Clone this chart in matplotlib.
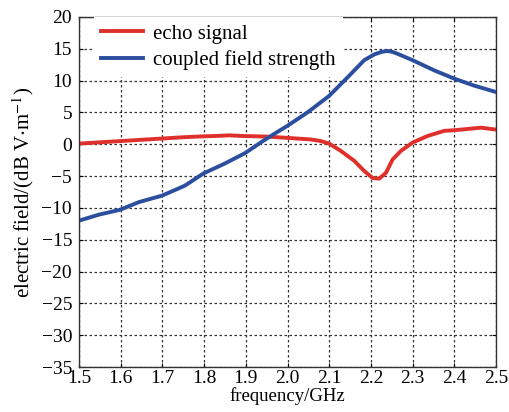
import matplotlib.pyplot as plt

plt.rcParams['font.family'] = ['Liberation Serif', 'DejaVu Serif']
plt.rcParams['mathtext.fontset'] = 'stix'

# echo signal (red)
freq_echo = [1.50, 1.55, 1.60, 1.65, 1.70, 1.75, 1.80, 1.83, 1.86, 1.89, 1.92, 1.95,
             2.00, 2.056, 2.08, 2.10, 2.128, 2.16, 2.184, 2.204, 2.22, 2.236,
             2.252, 2.272, 2.30, 2.336, 2.376, 2.40, 2.432, 2.464, 2.50]
echo = [0.1, 0.3, 0.5, 0.7, 0.9, 1.1, 1.25, 1.3, 1.4, 1.3, 1.25, 1.2,
        1.0, 0.75, 0.5, 0.1, -1.05, -2.6, -4.2, -5.3, -5.4, -4.5,
        -2.4, -1.05, 0.26, 1.3, 2.1, 2.2, 2.4, 2.6, 2.3]

# coupled field strength (blue)
freq_cpl = [1.50, 1.548, 1.598, 1.643, 1.70, 1.754, 1.798, 1.849, 1.898, 1.944,
            1.97, 2.00, 2.048, 2.10, 2.144, 2.184, 2.208, 2.225, 2.24, 2.252,
            2.264, 2.30, 2.352, 2.40, 2.448, 2.50]
coupled = [-12.0, -11.05, -10.3, -9.1, -8.05, -6.5, -4.6, -3.05, -1.4, 0.63,
           1.7, 2.9, 5.0, 7.6, 10.5, 13.2, 14.1, 14.5, 14.65, 14.5,
           14.2, 13.2, 11.6, 10.3, 9.2, 8.2]

xticks = [1.5, 1.6, 1.7, 1.8, 1.9, 2.0, 2.1, 2.2, 2.3, 2.4, 2.5]
yticks = list(range(-35, 21, 5))

fig = plt.figure(figsize=(5.1, 4.12), dpi=100)
ax = fig.add_axes([0.155, 0.109, 0.8175, 0.85])

ax.plot(freq_echo, echo, color='#e0302c', lw=2.8, label='echo signal',
        solid_joinstyle='round')
ax.plot(freq_cpl, coupled, color='#2b4f9e', lw=2.8, label='coupled field strength',
        solid_joinstyle='round')

ax.set_xlim(1.5, 2.5)
ax.set_ylim(-35, 20)
ax.set_xticks(xticks)
ax.set_xticklabels(['%.1f' % v for v in xticks])
ax.set_yticks(yticks)
ax.set_yticklabels([str(v).replace('-', '\u2212') for v in yticks])
ax.tick_params(direction='in', top=True, right=True, labelsize=14, length=3)
ax.tick_params(axis='x', pad=2)
ax.tick_params(axis='y', pad=5)
ax.grid(True, color='#333333', linestyle=(0, (2, 2)), lw=0.9)
for s in ax.spines.values():
    s.set_linewidth(1.0)
    s.set_color('#333333')

ax.set_xlabel('frequency/GHz', fontsize=13.5, labelpad=0)
ax.set_ylabel(r'electric field/(dB V$\cdot$m$^{-1}$)', fontsize=15, labelpad=4)

leg = ax.legend(loc='upper left', fontsize=15, frameon=True, fancybox=False,
                handlelength=2.0, handletextpad=0.5, borderaxespad=0.0,
                labelspacing=0.3, borderpad=0.35,
                bbox_to_anchor=(0.035, 1.0))
leg.get_frame().set_edgecolor('none')
leg.get_frame().set_facecolor('white')
leg.get_frame().set_alpha(1)

fig.savefig('out.png', dpi=100)
